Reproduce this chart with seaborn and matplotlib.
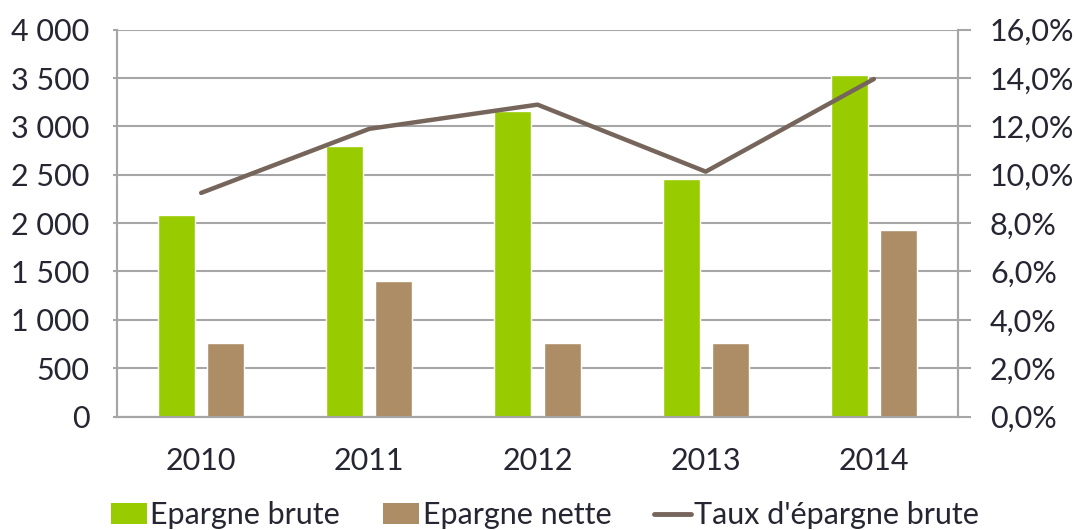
import numpy as np
import pandas as pd
import matplotlib
matplotlib.use("Agg")
import matplotlib.pyplot as plt
import seaborn as sns
from matplotlib.ticker import FuncFormatter, MultipleLocator
from matplotlib.patches import Patch
from matplotlib.lines import Line2D

years = ["2010", "2011", "2012", "2013", "2014"]
epargne_brute = [2080, 2800, 3160, 2455, 3535]
epargne_nette = [765, 1405, 765, 765, 1930]
taux_epargne = [9.25, 11.9, 12.9, 10.13, 13.96]

series_names = ["Epargne brute", "Epargne nette", "Taux d'épargne brute"]
colors = {"Epargne brute": "#99CC00", "Epargne nette": "#AD8D66"}
line_color = "#76655B"
grid_color = "#A6A6A6"
text_color = "#262633"

sns.set_theme(style="white")
plt.rcParams["font.family"] = ["Lato", "DejaVu Sans"]

df = pd.DataFrame({
    "year": years * 2,
    "value": epargne_brute + epargne_nette,
    "serie": [series_names[0]] * len(years) + [series_names[1]] * len(years),
})

fig = plt.figure(figsize=(10.74, 5.30), dpi=100)
ax = fig.add_axes([0.109, 0.214, 0.783, 0.730])

sns.barplot(data=df, x="year", y="value", hue="serie", order=years,
            hue_order=series_names[:2], palette=colors, width=0.585, gap=0.25,
            saturation=1, ax=ax, legend=False, errorbar=None)

ax.set_ylim(0, 4000)
ax.set_xlim(-0.5, len(years) - 0.5)
ax.yaxis.set_major_locator(MultipleLocator(500))
ax.yaxis.set_major_formatter(FuncFormatter(lambda v, p: f"{int(v):,}".replace(",", " ")))
ax.grid(axis="y", color=grid_color, linewidth=1.5)
ax.set_axisbelow(True)
ax.set_xlabel("")
ax.set_ylabel("")

ax2 = ax.twinx()
sns.lineplot(x=np.arange(len(years)), y=taux_epargne, ax=ax2, color=line_color,
             linewidth=3.2, solid_capstyle="round")
ax2.set_ylim(0, 16)
ax2.yaxis.set_major_locator(MultipleLocator(2))
ax2.yaxis.set_major_formatter(FuncFormatter(lambda v, p: f"{v:.1f}%".replace(".", ",")))
ax2.set_xlim(-0.5, len(years) - 0.5)

for a in (ax, ax2):
    for side in ("left", "right", "bottom"):
        a.spines[side].set_visible(True)
        a.spines[side].set_color(grid_color)
        a.spines[side].set_linewidth(1.5)
    a.spines["top"].set_visible(False)

ax.tick_params(axis="y", which="both", left=True, length=3, width=1.5, color=grid_color,
               pad=17, labelsize=22, labelcolor=text_color)
ax.tick_params(axis="x", bottom=False, pad=16, labelsize=22, labelcolor=text_color)
ax2.tick_params(axis="y", right=True, length=9, width=1.5, color=grid_color,
                pad=14, labelsize=22, labelcolor=text_color)

handles = [
    Patch(facecolor=colors[series_names[0]], edgecolor="none"),
    Patch(facecolor=colors[series_names[1]], edgecolor="none"),
    Line2D([0], [0], color=line_color, linewidth=3.5, solid_capstyle="round"),
]
fig.legend(handles, series_names, loc="center", bbox_to_anchor=(0.507, 0.028), ncol=3,
           frameon=False, fontsize=22, handlelength=1.2, handleheight=0.65,
           handletextpad=0.1, columnspacing=1.4, labelcolor=text_color,
           borderpad=0, borderaxespad=0)

fig.savefig("out.png", dpi=100)
